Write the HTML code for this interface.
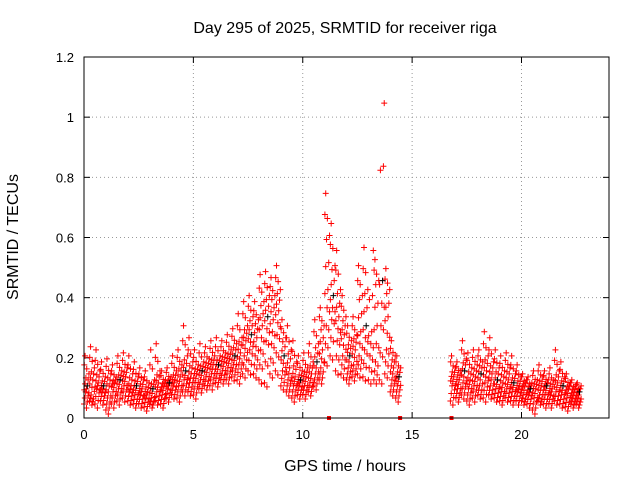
<!DOCTYPE html>
<html><head><meta charset="utf-8"><style>
body{margin:0;background:#fff}
svg{display:block;font-family:"Liberation Sans",sans-serif}
</style></head><body>
<svg id="chart" width="640" height="480">
<text x="345" y="33" text-anchor="middle" font-size="16">Day 295 of 2025, SRMTID for receiver riga</text>
<text x="345" y="471" text-anchor="middle" font-size="16">GPS time / hours</text>
<text transform="translate(18,237) rotate(-90)" text-anchor="middle" font-size="16">SRMTID / TECUs</text>
<g id="grid"></g><g id="marks"></g>
<rect x="84" y="57" width="525" height="361" fill="none" stroke="#000"/>
</svg>
<script>
const xTicks=[0,5,10,15,20];
const yTicks=[0,0.2,0.4,0.6,0.8,1,1.2];
const yTickLabels=["0","0.2","0.4","0.6","0.8","1","1.2"];
const times=[0,0.25,0.5,0.75,1,1.25,1.5,1.75,2,2.25,2.5,2.75,3,3.25,3.5,3.75,4,4.25,4.5,4.75,5,5.25,5.5,5.75,6,6.25,6.5,6.75,7,7.25,7.5,7.75,8,8.25,8.5,8.75,9,9.25,9.5,9.75,10,10.25,10.5,10.75,11,11.25,11.5,11.75,12,12.25,12.5,12.75,13,13.25,13.5,13.75,14,14.25,16.75,17,17.25,17.5,17.75,18,18.25,18.5,18.75,19,19.25,19.5,19.75,20,20.25,20.5,20.75,21,21.25,21.5,21.75,22,22.25,22.5];
const values=[
[.04,.08,.1,.14,.2],[.05,.07,.12,.16,.23],[.04,.09,.11,.15,.22],[.05,.08,.1,.13,.18],[.02,.06,.1,.14,.19],[.04,.08,.11,.13,.17],[.05,.09,.12,.15,.2],[.06,.1,.13,.16,.21],[.05,.08,.1,.14,.2],[.04,.07,.1,.13,.18],[.04,.07,.09,.12,.16],[.03,.06,.08,.11,.15],[.04,.06,.09,.12,.22],[.05,.08,.11,.15,.24],[.04,.07,.1,.12,.15],[.06,.09,.11,.13,.16],[.07,.1,.12,.15,.2],[.06,.1,.13,.17,.22],[.08,.12,.15,.2,.3],[.08,.11,.14,.18,.26],[.07,.11,.14,.17,.22],[.09,.12,.15,.18,.24],[.1,.13,.16,.19,.23],[.1,.14,.17,.2,.25],[.11,.14,.17,.2,.26],[.12,.15,.18,.21,.25],[.12,.16,.19,.22,.27],[.13,.17,.2,.24,.29],[.12,.17,.21,.26,.34],[.14,.2,.25,.3,.38],[.15,.22,.27,.33,.4],[.14,.2,.26,.32,.38],[.12,.22,.3,.38,.47],[.11,.25,.33,.4,.48],[.14,.24,.32,.4,.46],[.15,.27,.35,.42,.5],[.1,.15,.2,.26,.32],[.08,.12,.16,.22,.3],[.06,.1,.13,.18,.25],[.07,.1,.12,.15,.2],[.07,.1,.13,.16,.21],[.08,.11,.14,.18,.24],[.1,.14,.18,.24,.32],[.12,.16,.22,.3,.36],[.18,.3,.42,.6,.74],[.2,.32,.4,.5,.64],[.15,.25,.33,.42,.55],[.14,.2,.27,.33,.4],[.12,.16,.2,.25,.3],[.13,.17,.22,.27,.33],[.14,.2,.28,.4,.5],[.13,.22,.3,.42,.56],[.12,.2,.28,.4,.55],[.12,.18,.3,.45,.52],[.12,.3,.45,.83,1.04],[.14,.22,.33,.42,.49],[.08,.12,.16,.2,.25],[.06,.1,.13,.16,.2],
[.05,.1,.13,.16,.2],[.06,.09,.12,.15,.18],[.07,.11,.15,.19,.25],[.05,.09,.12,.16,.21],[.06,.1,.13,.17,.22],[.07,.1,.14,.18,.22],[.06,.11,.15,.2,.28],[.07,.1,.14,.18,.26],[.06,.09,.12,.16,.22],[.05,.08,.11,.15,.2],[.06,.09,.12,.16,.21],[.05,.08,.11,.14,.2],[.05,.08,.1,.13,.17],[.05,.07,.1,.12,.14],[.04,.07,.09,.11,.13],[.02,.06,.09,.12,.15],[.05,.07,.1,.13,.17],[.04,.07,.1,.12,.15],[.04,.07,.09,.12,.16],[.05,.08,.11,.15,.22],[.04,.07,.1,.13,.18],[.03,.06,.09,.11,.14],[.04,.06,.08,.1,.12],[.04,.06,.08,.1,.11]];
const zeroMarks=[11.2,14.45,16.8];
const NS="http://www.w3.org/2000/svg";
const X0=84,X1=609,Y0=418,Y1=57,XMAX=24,YMAX=1.2;
function xs(v){return X0+(X1-X0)*v/XMAX;}
function ys(v){return Y0-(Y0-Y1)*v/YMAX;}
function mk(tag,at,parent){const e=document.createElementNS(NS,tag);for(const k in at)e.setAttribute(k,at[k]);parent.appendChild(e);return e;}
const grid=document.getElementById('grid'),marks=document.getElementById('marks');
xTicks.forEach(t=>{const x=xs(t);
 if(t>0){const g=mk('line',{x1:x,x2:x,y1:Y0,y2:Y1,stroke:'#999','stroke-dasharray':'1,3'},grid);
 
 }
 mk('line',{x1:x,x2:x,y1:Y0,y2:Y0-6,stroke:'#000'},grid);
 mk('line',{x1:x,x2:x,y1:Y1,y2:Y1+6,stroke:'#000'},grid);
 const l=mk('text',{x:x,y:Y0+21,'text-anchor':'middle','font-size':13},grid);l.textContent=t;
 
 });
yTicks.forEach((t,i)=>{const y=ys(t);
 if(t>0&&t<YMAX){const g=mk('line',{x1:X0,x2:X1,y1:y,y2:y,stroke:'#999','stroke-dasharray':'1,3'},grid);
 
 }
 mk('line',{x1:X0,x2:X0+6,y1:y,y2:y,stroke:'#000'},grid);
 mk('line',{x1:X1,x2:X1-6,y1:y,y2:y,stroke:'#000'},grid);
 const l=mk('text',{x:X0-10,y:y+5,'text-anchor':'end','font-size':13},grid);l.textContent=yTickLabels[i];
 
 });
let d='',dk='';
times.forEach((t,i)=>{const v=values[i];
 const big=v[4]-v[3]>0.15;
 const lv=[];
 for(let k=0;k<v.length;k++){lv.push(v[k]);if(k<v.length-1&&!(big&&k>=2)){lv.push((v[k]+v[k+1])/2);}}
 lv.forEach((val,j)=>{
  for(let m=0;m<2;m++){
   if(val===v[4]&&m>0)continue;
   const x=xs(t+((j*3+m*9)%20)*0.0125),y=ys(val)+(m*2-1)*2;
   if(j===4&&m===0&&i%3===0)dk+=`M${x-3},${y}h6M${x},${y-3}v6`;
   else d+=`M${x-3},${y}h6M${x},${y-3}v6`;
  }});});
const p=mk('path',{d:d,stroke:'#f00','stroke-width':1,fill:'none'},marks);


const pk=mk('path',{d:dk,stroke:'#000','stroke-width':1,fill:'none'},marks);


zeroMarks.forEach(t=>{const r=mk('rect',{x:xs(t)-2,y:ys(0)-2,width:4,height:4,fill:'#f00'},marks);
 
 });
</script>
</body></html>
